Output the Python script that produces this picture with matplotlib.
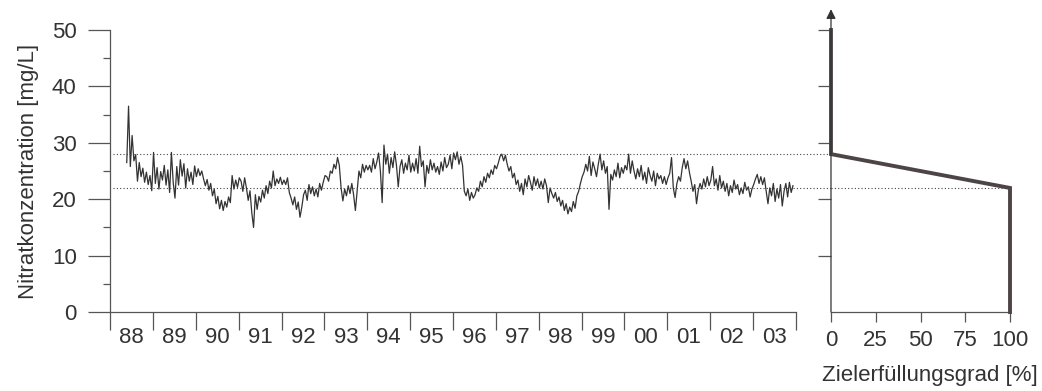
import numpy as np
import matplotlib
matplotlib.use("Agg")
import matplotlib.pyplot as plt
from matplotlib.ticker import FixedLocator, NullFormatter

plt.rcParams['font.family'] = ['Liberation Sans', 'DejaVu Sans']

# --- data -------------------------------------------------------------------
first_date = 1988.39
last_date = 2003.93

# nitrate concentration [mg/L], roughly two values per month
n_1988 = [26.5, 36.5, 25.8, 31.3, 26.8, 27.9, 23.2, 26.5, 24.0, 25.5, 23.0, 24.8, 22.6, 24.2, 21.5, 28.3]
n_1989 = [22.8, 25.6, 21.8, 24.9, 23.4, 26.0, 22.5, 25.2, 21.2, 28.3, 23.0, 20.2, 25.8, 22.5, 27.0, 24.1, 26.3, 22.0, 25.4, 23.2, 24.8, 22.6, 25.9, 24.0]
n_1990 = [25.4, 24.2, 25.0, 23.6, 22.4, 23.5, 21.6, 22.8, 20.6, 21.8, 19.2, 20.5, 18.3, 19.8, 18.0, 19.6, 18.6, 20.4, 19.4, 24.2, 21.8, 23.4, 22.1, 23.8]
n_1991 = [23.2, 21.4, 23.8, 22.0, 19.8, 21.5, 17.6, 15.0, 20.8, 18.2, 20.5, 19.5, 21.6, 20.2, 22.4, 21.0, 23.2, 22.0, 25.0, 22.4, 23.6, 22.8, 23.9, 22.6]
n_1992 = [23.4, 22.6, 23.8, 21.2, 20.2, 19.0, 20.4, 18.2, 19.5, 16.8, 18.6, 20.8, 21.6, 19.8, 22.6, 21.0, 22.2, 20.6, 21.8, 20.4, 22.8, 21.6, 23.0, 24.2]
n_1993 = [24.0, 23.2, 25.0, 24.6, 26.2, 25.4, 27.4, 26.0, 22.0, 19.7, 21.8, 20.6, 22.4, 21.0, 22.8, 20.8, 18.0, 21.6, 25.0, 23.8, 26.2, 24.8, 26.0, 25.2]
n_1994 = [26.0, 24.8, 27.2, 25.4, 26.6, 28.2, 25.0, 19.4, 29.6, 26.2, 28.0, 24.6, 27.4, 25.6, 28.4, 26.0, 22.2, 25.8, 27.0, 24.6, 26.4, 25.2, 27.8, 24.8]
n_1995 = [26.4, 25.0, 27.2, 24.6, 29.4, 25.8, 26.8, 22.2, 26.0, 24.6, 27.0, 25.2, 26.4, 24.8, 25.8, 24.4, 26.6, 25.0, 27.4, 25.6, 26.2, 27.8, 25.4, 28.2]
n_1996 = [27.0, 28.4, 26.2, 27.6, 26.0, 21.4, 20.6, 21.8, 19.8, 21.2, 20.2, 20.8, 22.0, 21.4, 23.2, 22.2, 24.0, 23.0, 24.6, 23.8, 25.2, 24.4, 26.0, 25.4]
n_1997 = [26.4, 27.6, 28.0, 26.8, 27.8, 26.2, 25.0, 25.8, 23.8, 24.6, 22.6, 23.4, 21.4, 22.8, 20.8, 23.6, 22.2, 24.2, 23.0, 21.6, 24.0, 22.4, 23.6, 22.0]
n_1998 = [23.2, 21.8, 23.6, 22.4, 19.4, 22.0, 21.0, 20.2, 21.2, 19.6, 20.4, 18.8, 19.8, 18.0, 19.2, 17.4, 18.6, 17.8, 19.6, 18.4, 20.6, 21.4, 22.8, 24.0]
n_1999 = [24.8, 26.2, 25.0, 27.6, 24.2, 26.6, 25.4, 24.0, 26.2, 28.0, 25.2, 26.8, 24.6, 25.8, 18.2, 24.4, 23.4, 25.2, 24.0, 26.4, 23.8, 25.6, 24.6, 26.0]
n_2000 = [25.2, 28.0, 24.6, 26.8, 25.0, 23.6, 25.4, 24.0, 26.0, 23.4, 24.8, 22.8, 25.6, 24.2, 23.2, 25.0, 22.4, 24.6, 23.6, 24.2, 22.8, 24.0, 22.6, 23.8]
n_2001 = [24.6, 27.4, 22.0, 20.3, 22.8, 24.0, 23.2, 25.6, 27.2, 25.4, 26.8, 24.8, 23.2, 21.4, 22.6, 19.2, 21.6, 22.8, 21.8, 23.6, 22.2, 24.0, 22.4, 23.4]
n_2002 = [25.8, 22.4, 23.6, 21.6, 24.2, 22.0, 23.2, 21.4, 22.8, 20.6, 22.4, 21.2, 23.4, 21.8, 22.6, 20.8, 22.0, 21.0, 23.0, 21.6, 22.2, 20.4, 21.8, 22.6]
n_2003 = [23.6, 24.4, 22.8, 24.0, 22.6, 23.8, 21.4, 19.2, 22.0, 20.6, 22.8, 19.6, 21.8, 20.2, 22.6, 18.8, 21.4, 22.8, 20.4, 23.0, 21.2, 22.4]

year_labels = ['88', '89', '90', '91', '92', '93', '94', '95', '96', '97',
               '98', '99', '00', '01', '02', '03']

# target fulfilment curve: (fulfilment %, concentration)
goal_pct = [0, 0, 100, 100]
goal_conc = [50, 28, 22, 0]
upper_limit = 28
lower_limit = 22
pct_ticks = [0, 25, 50, 75, 100]

nitrate = np.array(n_1988 + n_1989 + n_1990 + n_1991 + n_1992 + n_1993 + n_1994 + n_1995
                   + n_1996 + n_1997 + n_1998 + n_1999 + n_2000 + n_2001 + n_2002 + n_2003)
t = np.linspace(first_date, last_date, len(nitrate))

# --- figure ----------------------------------------------------------------------
text_col = '#333333'
axis_col = '#555555'
fs = 16

fig = plt.figure(figsize=(10.42, 3.91), dpi=100)
ax = fig.add_axes([0.1056, 0.202, 0.6583, 0.7212])
ax2 = fig.add_axes([0.7975, 0.202, 0.1718, 0.7212])

# left panel: time series
ax.plot(t, nitrate, color='#333333', lw=0.9)
ax.set_xlim(1988, 2004)
ax.set_ylim(0, 50)

for s in ['top', 'right']:
    ax.spines[s].set_visible(False)
for s in ['left', 'bottom']:
    ax.spines[s].set_color(axis_col)
    ax.spines[s].set_linewidth(0.9)

ax.set_yticks(range(0, 51, 10))
ax.yaxis.set_minor_locator(FixedLocator(range(5, 50, 10)))
ax.tick_params(axis='y', which='major', length=16, width=0.9, color=axis_col,
               labelsize=fs, labelcolor=text_col, pad=8)
ax.tick_params(axis='y', which='minor', length=5, width=0.9, color=axis_col)

years = np.arange(1988, 2005)
ax.xaxis.set_major_locator(FixedLocator(years))
ax.xaxis.set_major_formatter(NullFormatter())
ax.xaxis.set_minor_locator(FixedLocator(years[:-1] + 0.5))
ax.set_xticklabels(year_labels, minor=True)
ax.tick_params(axis='x', which='major', length=13, width=0.9, color=axis_col)
ax.tick_params(axis='x', which='minor', length=0, labelsize=fs, labelcolor=text_col, pad=11)

ax.set_ylabel('Nitratkonzentration [mg/L]', fontsize=fs, color=text_col, labelpad=9)

# dotted limit lines reaching over to the right panel
yx = ax.get_yaxis_transform()
for lim in (upper_limit, lower_limit):
    ax.plot([0.005, 1.051], [lim, lim], transform=yx, clip_on=False,
            color='#444444', lw=0.8, linestyle=(0, (1, 2)))

# right panel: target fulfilment
ax2.plot([0, 100], [lower_limit, lower_limit], color='#444444', lw=0.8,
         linestyle=(0, (1, 2)), clip_on=False)
ax2.plot(goal_pct, goal_conc, color='#4d4545', lw=2.8, solid_joinstyle='miter',
         clip_on=False, zorder=3)
ax2.set_xlim(0, 100)
ax2.set_ylim(0, 50)
for s in ['top', 'right', 'left']:
    ax2.spines[s].set_visible(False)
ax2.spines['bottom'].set_color(axis_col)
ax2.spines['bottom'].set_linewidth(0.9)
ax2.annotate('', xy=(0, 53.7), xytext=(0, 0), annotation_clip=False,
             arrowprops=dict(arrowstyle='-|>', color='#333333', lw=0.9,
                             mutation_scale=14, shrinkA=0, shrinkB=0))
ax2.set_yticks(range(10, 51, 10))
ax2.set_yticklabels([])
ax2.tick_params(axis='y', length=9.5, width=0.9, color=axis_col)
ax2.set_xticks(pct_ticks)
ax2.tick_params(axis='x', length=7, width=0.9, color=axis_col,
                labelsize=fs, labelcolor=text_col, pad=6)

fig.text(930 / 1042, 1 - 376 / 391, 'Zielerfüllungsgrad [%]', fontsize=fs,
         color=text_col, ha='center', va='center')

fig.savefig('out.png', dpi=100)
